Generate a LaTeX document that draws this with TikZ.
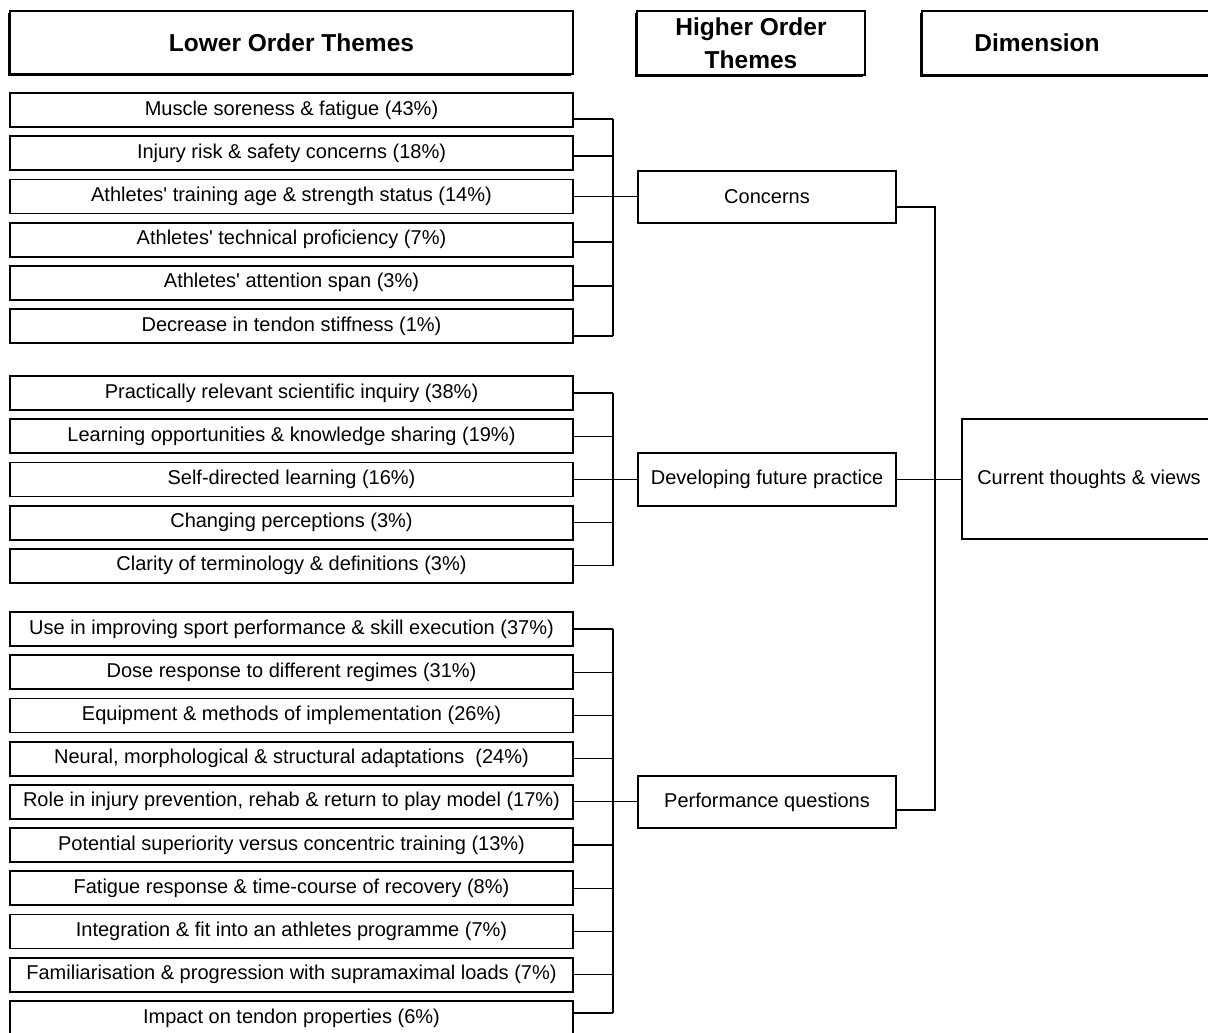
\documentclass[tikz,border=0pt]{standalone}
\usepackage{fontspec}
\setmainfont{Liberation Sans}
\usetikzlibrary{shadows}
\begin{document}
\begin{tikzpicture}[x=1pt,y=-1pt,
  lowbox/.style={draw, line width=1.8pt, minimum width=563pt, minimum height=34pt, inner sep=0pt,
     font=\fontsize{20}{24}\selectfont},
  midbox/.style={draw, line width=1.8pt, minimum width=258pt, minimum height=52pt, inner sep=0pt,
     font=\fontsize{20}{24}\selectfont},
  headbox/.style={draw, fill=white, line width=2.4pt, inner sep=0pt,
     drop shadow={shadow xshift=-1.6pt, shadow yshift=-1.6pt, fill=black, opacity=1}},
  headtext/.style={font=\fontsize{24.5}{33}\selectfont\bfseries, align=center, inner sep=0pt},
  plaintext/.style={font=\fontsize{20}{24}\selectfont, inner sep=0pt},
  conn/.style={line width=1.1pt}]
\useasboundingbox (0,0) rectangle (1208,1033);
\clip (0,0) rectangle (1208,1033);

% headers
\node[headbox, headtext, minimum width=563pt, minimum height=63pt] (hlow) at (291.5,42.5) {Lower Order Themes};
\node[headbox, headtext, minimum width=228pt, minimum height=64pt] (hhigh) at (751,43) {Higher Order\\Themes};
\node[headbox, minimum width=338pt, minimum height=64pt] (hdim) at (1091,43) {};
\node[headtext] (hdimtext) at (1037,43) {Dimension};

% lower order themes
\node[lowbox] (l1) at (291.5,110) {Muscle soreness \& fatigue (43\%)};
\node[lowbox] (l2) at (291.5,153.2) {Injury risk \& safety concerns (18\%)};
\node[lowbox] (l3) at (291.5,196.4) {Athletes\textquotesingle{} training age \& strength status (14\%)};
\node[lowbox] (l4) at (291.5,239.6) {Athletes\textquotesingle{} technical proficiency (7\%)};
\node[lowbox] (l5) at (291.5,282.8) {Athletes\textquotesingle{} attention span (3\%)};
\node[lowbox] (l6) at (291.5,326) {Decrease in tendon stiffness (1\%)};

\node[lowbox] (l7) at (291.5,393) {Practically relevant scientific inquiry (38\%)};
\node[lowbox] (l8) at (291.5,436.2) {Learning opportunities \& knowledge sharing (19\%)};
\node[lowbox] (l9) at (291.5,479.4) {Self-directed learning (16\%)};
\node[lowbox] (l10) at (291.5,522.6) {Changing perceptions (3\%)};
\node[lowbox] (l11) at (291.5,565.8) {Clarity of terminology \& definitions (3\%)};

\node[lowbox] (l12) at (291.5,629) {Use in improving sport performance \& skill execution (37\%)};
\node[lowbox] (l13) at (291.5,672.2) {Dose response to different regimes (31\%)};
\node[lowbox] (l14) at (291.5,715.4) {Equipment \& methods of implementation (26\%)};
\node[lowbox] (l15) at (291.5,758.6) {Neural, morphological \& structural adaptations \ (24\%)};
\node[lowbox] (l16) at (291.5,801.8) {Role in injury prevention, rehab \& return to play model (17\%)};
\node[lowbox] (l17) at (291.5,845) {Potential superiority versus concentric training (13\%)};
\node[lowbox] (l18) at (291.5,888.2) {Fatigue response \& time-course of recovery (8\%)};
\node[lowbox] (l19) at (291.5,931.4) {Integration \& fit into an athletes programme (7\%)};
\node[lowbox] (l20) at (291.5,974.6) {Familiarisation \& progression with supramaximal loads (7\%)};
\node[lowbox] (l21) at (291.5,1018) {Impact on tendon properties (6\%)};

% higher order themes
\node[midbox] (h1) at (767,197) {Concerns};
\node[midbox, minimum height=53pt] (h2) at (767,479.5) {Developing future practice};
\node[midbox] (h3) at (767,802) {Performance questions};

% dimension
\node[draw, line width=1.8pt, minimum width=300pt, minimum height=120pt, inner sep=0pt] (cur) at (1112,479) {};
\node[plaintext] (curtext) at (1089,479) {Current thoughts \& views};

% bus coordinates
\coordinate (bx) at (613,0);
\coordinate (j1) at (613,119);
\coordinate (j2) at (613,156);
\coordinate (j4) at (613,242);
\coordinate (j5) at (613,286);
\coordinate (j6) at (613,336);
\coordinate (k21) at (613,1013);
\coordinate (r1) at (935,207);
\coordinate (r3) at (935,810);

% group 1
\draw[conn] (l1.east |- j1) -- (j1);
\draw[conn] (l2.east |- j2) -- (j2);
\draw[conn] (l3.east) -- (l3.east -| h1.west);
\draw[conn] (l4.east |- j4) -- (j4);
\draw[conn] (l5.east |- j5) -- (j5);
\draw[conn] (l6.east |- j6) -- (j6);
\draw[conn] (j1) -- (j6);

% group 2
\draw[conn] (l7.east) -- (l7.east -| bx);
\draw[conn] (l8.east) -- (l8.east -| bx);
\draw[conn] (l9.east) -- (l9.east -| h2.west);
\draw[conn] (l10.east) -- (l10.east -| bx);
\draw[conn] (l11.east) -- (l11.east -| bx);
\draw[conn] (l7.east -| bx) -- (l11.east -| bx);

% group 3
\draw[conn] (l12.east) -- (l12.east -| bx);
\draw[conn] (l13.east) -- (l13.east -| bx);
\draw[conn] (l14.east) -- (l14.east -| bx);
\draw[conn] (l15.east) -- (l15.east -| bx);
\draw[conn] (l16.east) -- (l16.east -| h3.west);
\draw[conn] (l17.east) -- (l17.east -| bx);
\draw[conn] (l18.east) -- (l18.east -| bx);
\draw[conn] (l19.east) -- (l19.east -| bx);
\draw[conn] (l20.east) -- (l20.east -| bx);
\draw[conn] (l21.east |- k21) -- (k21);
\draw[conn] (l12.east -| bx) -- (k21);

% higher to dimension
\draw[conn] (h1.east |- r1) -- (r1) -- (r3) -- (h3.east |- r3);
\draw[conn] (h2.east) -- (h2.east -| cur.west);
\end{tikzpicture}
\end{document}
